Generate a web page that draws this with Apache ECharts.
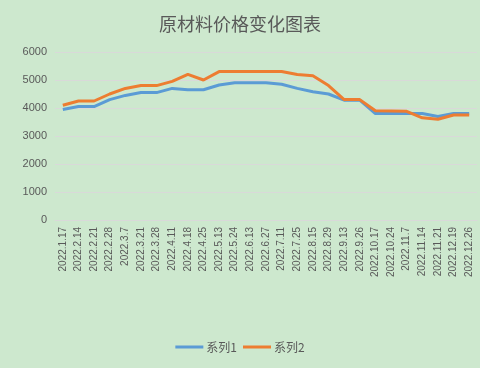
<!DOCTYPE html>
<html><head><meta charset="utf-8">
<script src="https://cdn.jsdelivr.net/npm/echarts@6/dist/echarts.min.js"></script>
<style>html,body{margin:0;padding:0;background:#CDE8CE}#c{width:480px;height:368px}</style>
</head><body><div id="c"></div>
<script>
const categories = ['2022.1.17','2022.2.14','2022.2.21','2022.2.28','2022.3.7','2022.3.21','2022.3.28','2022.4.11','2022.4.18','2022.4.25','2022.5.13','2022.5.24','2022.6.13','2022.6.27','2022.7.11','2022.7.25','2022.8.15','2022.8.29','2022.9.13','2022.9.26','2022.10.17','2022.10.24','2022.11.7','2022.11.14','2022.11.21','2022.12.19','2022.12.26'];
const series1 = [3950,4050,4050,4300,4450,4550,4550,4700,4650,4650,4820,4900,4900,4900,4850,4700,4580,4500,4280,4280,3800,3800,3800,3800,3700,3800,3800];
const series2 = [4100,4250,4250,4500,4700,4800,4800,4950,5200,5000,5300,5300,5300,5300,5300,5200,5150,4800,4300,4300,3900,3890,3880,3650,3600,3750,3750];
const yTicks = [0,1000,2000,3000,4000,5000,6000];
const chart = echarts.init(document.getElementById('c'));
const txt = '#595959';
chart.setOption({
  backgroundColor: '#CDE8CE',
  animation: false,
  title: {text: '原材料价格变化图表', left: 'center', top: 10,
    textStyle: {color: txt, fontSize: 18, fontWeight: 'normal', fontFamily: 'Noto Sans CJK SC'}},
  legend: {bottom: 10, itemWidth: 28, itemHeight: 3, itemGap: 6,
    icon: 'rect',
    textStyle: {color: txt, fontSize: 12, fontFamily: 'Noto Sans CJK SC', padding: [0,0,0,-2]},
    data: ['系列1','系列2']},
  grid: {left: 55, right: 3, top: 52, bottom: 148},
  xAxis: {type: 'category', data: categories, boundaryGap: true,
    axisLine: {show: true, lineStyle: {color: '#D9D9D9'}},
    axisTick: {show: false},
    axisLabel: {rotate: 90, interval: 0, color: txt, fontSize: 10, fontFamily: 'Liberation Sans', margin: 7}},
  yAxis: {type: 'value', min: yTicks[0], max: yTicks[yTicks.length-1], interval: 1000,
    axisLine: {show: false}, axisTick: {show: false},
    splitLine: {lineStyle: {color: '#D9D9D9', width: 1}},
    axisLabel: {color: txt, fontSize: 11, fontFamily: 'Liberation Sans', margin: 8, formatter: v => String(v)}},
  series: [
    {name: '系列1', type: 'line', data: series1, symbol: 'none',
      lineStyle: {width: 3, color: '#5B9BD5'}, itemStyle: {color: '#5B9BD5'}},
    {name: '系列2', type: 'line', data: series2, symbol: 'none',
      lineStyle: {width: 3, color: '#ED7D31'}, itemStyle: {color: '#ED7D31'}}
  ]
});
</script></body></html>
